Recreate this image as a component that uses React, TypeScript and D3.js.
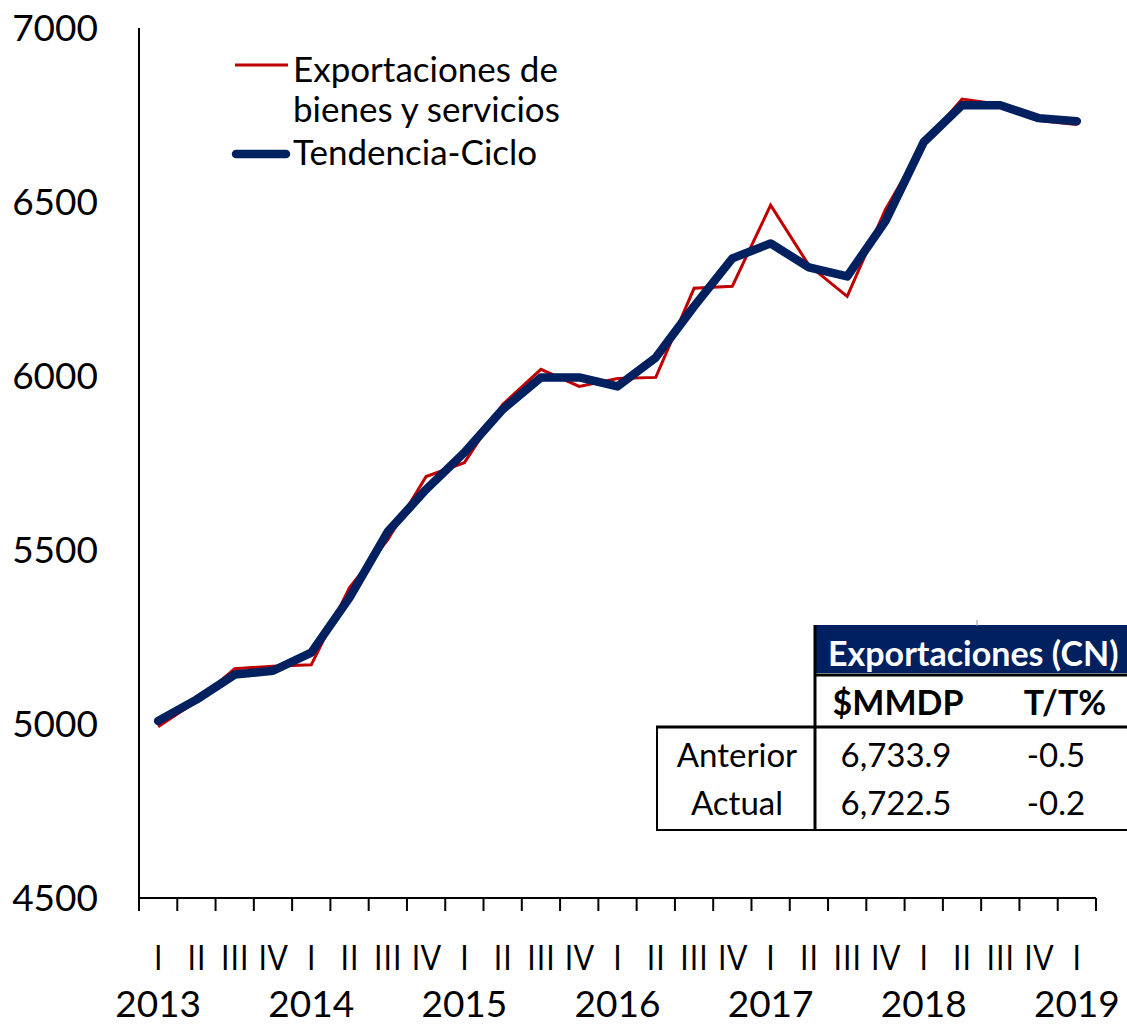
import React from "react";
import * as d3 from "d3";

const quarters = ["I","II","III","IV","I","II","III","IV","I","II","III","IV","I","II","III","IV","I","II","III","IV","I","II","III","IV","I"];
const years = ["2013","","","","2014","","","","2015","","","","2016","","","","2017","","","","2018","","","","2019"];
const exportaciones = [4992, 5065, 5159, 5166, 5170, 5392, 5530, 5711, 5751, 5918, 6019, 5970, 5993, 5996, 6252, 6258, 6491, 6318, 6229, 6479, 6668, 6796, 6780, 6733.9, 6722.5];
const tendencia = [5009, 5070, 5142, 5153, 5205, 5363, 5553, 5674, 5780, 5904, 5996, 5996, 5970, 6053, 6200, 6338, 6381, 6312, 6286, 6445, 6672, 6778, 6778, 6741, 6732];
const yTicks = [4500, 5000, 5500, 6000, 6500, 7000];
const legendExport = ["Exportaciones de", "bienes y servicios"];
const legendTrend = "Tendencia-Ciclo";
const tableTitle = "Exportaciones (CN)";
const tableCols = ["$MMDP", "T/T%"];
const tableRows = ["Anterior", "Actual"];
const tableLevels = ["6,733.9", "6,722.5"];
const tableChanges = ["-0.5", "-0.2"];

const RED = "#C00000";
const BLUE = "#002060";
const FONT = "Lato, 'Open Sans', sans-serif";
const ROMAN_FONT = "'Open Sans', 'Noto Sans', sans-serif";

export default function App() {
  const idx = quarters.map((_, i) => i);
  const x = d3.scaleBand<number>().domain(idx).range([139, 1096]).padding(0);
  const y = d3.scaleLinear().domain([4500, 7000]).range([898, 28]);
  const cx = (i: number) => (x(i) as number) + x.bandwidth() / 2;
  const line = d3.line<number>().x((_, i) => cx(i)).y((d) => y(d));
  const tickXs = idx.map((i) => x(i) as number).concat([1096]);

  return (
    <svg width={1127} height={1024} style={{ position: "absolute", left: 0, top: 0, background: "#fff" }} fontFamily={FONT}>
      <rect x={0} y={0} width={1127} height={1024} fill="#fff" />
      {/* y axis */}
      <line x1={139} x2={139} y1={y(7000)} y2={910} stroke="#000" strokeWidth={2} />
      {yTicks.map((t) => (
        <text key={t} x={98} y={y(t)} dy="0.35em" textAnchor="end" fontSize={37} fill="#000">{t}</text>
      ))}
      {/* x axis */}
      <line x1={139} x2={1096} y1={898} y2={898} stroke="#000" strokeWidth={2} />
      {tickXs.map((tx, i) => (
        <line key={i} x1={tx} x2={tx} y1={898} y2={911} stroke="#000" strokeWidth={2} />
      ))}
      {quarters.map((q, i) => (
        <text key={"q" + i} x={cx(i)} y={970} textAnchor="middle" fontSize={34} fontFamily={ROMAN_FONT} fill="#000">{q}</text>
      ))}
      {years.map((yr, i) => yr ? (
        <text key={"y" + i} x={cx(i)} y={1017} textAnchor="middle" fontSize={37} fill="#000">{yr}</text>
      ) : null)}
      {/* series */}
      <path d={line(exportaciones) || ""} fill="none" stroke={RED} strokeWidth={3} strokeLinejoin="miter" />
      <path d={line(tendencia) || ""} fill="none" stroke={BLUE} strokeWidth={8.5} strokeLinejoin="round" strokeLinecap="round" />
      {/* legend */}
      <line x1={235} x2={288} y1={65} y2={65} stroke={RED} strokeWidth={3} />
      <text x={293} y={82} fontSize={35} fill="#000">{legendExport[0]}</text>
      <text x={293} y={122} fontSize={35} fill="#000">{legendExport[1]}</text>
      <line x1={236} x2={286} y1={154} y2={154} stroke={BLUE} strokeWidth={8.5} strokeLinecap="round" />
      <text x={293} y={165} fontSize={35} fill="#000">{legendTrend}</text>
      {/* table */}
      <rect x={815} y={625} width={312} height={48} fill={BLUE} />
      <line x1={977} x2={977} y1={620} y2={626} stroke="#999" strokeWidth={1} />
      <text x={828} y={666} fontSize={34} fontWeight="bold" fill="#fff">{tableTitle}</text>
      <line x1={815} x2={1127} y1={675} y2={675} stroke="#000" strokeWidth={3} />
      <text x={898} y={715} textAnchor="middle" fontSize={34} fontWeight="bold" fill="#000">{tableCols[0]}</text>
      <text x={1065} y={715} textAnchor="middle" fontSize={34} fontWeight="bold" fill="#000">{tableCols[1]}</text>
      <line x1={656} x2={1127} y1={727} y2={727} stroke="#000" strokeWidth={3} />
      <line x1={815} x2={815} y1={625} y2={831} stroke="#000" strokeWidth={3} />
      <line x1={657} x2={657} y1={727} y2={831} stroke="#000" strokeWidth={2} />
      <line x1={656} x2={1127} y1={830} y2={830} stroke="#000" strokeWidth={2} />
      {tableRows.map((r, i) => (
        <g key={r}>
          <text x={737} y={767 + i * 48} textAnchor="middle" fontSize={33} fill="#000">{r}</text>
          <text x={896} y={767 + i * 48} textAnchor="middle" fontSize={33} fill="#000">{tableLevels[i]}</text>
          <text x={1056} y={767 + i * 48} textAnchor="middle" fontSize={33} fill="#000">{tableChanges[i]}</text>
        </g>
      ))}
    </svg>
  );
}
